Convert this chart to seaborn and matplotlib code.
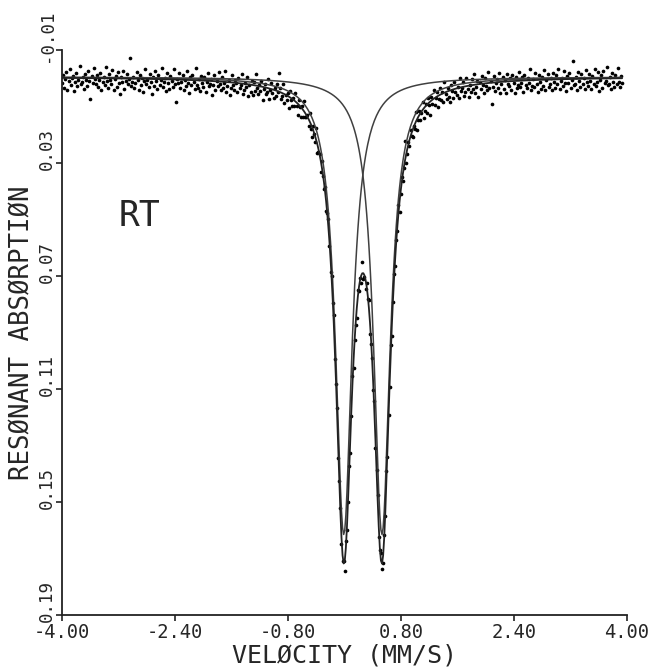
import matplotlib
matplotlib.use("Agg")
import matplotlib.pyplot as plt
import matplotlib.transforms as mtransforms
import numpy as np
import seaborn as sns

sns.set_style("ticks")
plt.rcParams["font.family"] = ["DejaVu Sans Mono", "DejaVu Sans"]

# doublet fit parameters (velocity in mm/s)
baseline = -0.0005
centers = [-0.01, 0.53]
depths = [0.162, 0.162]
fwhm = [0.282, 0.282]

# channel calibration
v_start, v_stop, n_chan = -4.0, 3.93, 512

# scatter of the measured points about the fit, in units of resid_unit
resid_unit = 1.4e-4
resid = [
    12, -8, 25, 3, -15, 30, 7, -22, 18, 0, -5, 34, 11, -12, 20, 6, -30, 15, 9, -3, 27, -10, 4, 19, -18, 8, 52, -6, 13, -25, 2, 16,
    -9, 22, 5, -14, 31, 10, -2, 17, -28, 7, 24, -11, 3, 14, -20, 29, 1, -7, 21, -16, 12, 40, -4, 9, -19, 26, 6, -12, 15, 0, -52, 18,
    8, -5, 23, 11, -17, 4, 28, -9, 16, -1, 33, 6, -24, 13, 2, 20, -13, 9, 38, -6, 17, -21, 5, 25, -10, 14, 1, -27, 19, 7, -3, 30,
    -15, 10, 24, -8, 3, 18, -26, 12, 58, -2, 9, -18, 21, 6, -11, 27, 0, 15, -23, 8, 32, -7, 13, -14, 4, 22, -30, 11, 19, -4, 26, -12,
    5, 17, -9, 29, 2, -20, 14, 8, -6, 35, 10, -16, 23, -1, 12, -25, 7, 20, -11, 16, 3, -28, 24, 9, -5, 31, 13, -19, 6, 18, -8, 0,
    22, -13, 11, 4, -24, 27, 15, -3, 8, -17, 30, 1, 19, -10, 25, -7, 14, -29, 6, 21, -2, 12, -15, 33, 5, -9, 17, 10, -22, 26, 3, -14,
    9, 20, -6, 13, -18, 2, -48, -11, 16, 7, -25, 23, 0, 11, -8, 28, -16, 5, 19, -3, 14, -21, 9, 30, -12, 4, 24, -7, 17, -27, 10, 6,
    -4, 18, -20, 12, 26, -9, 3, 15, -31, 21, 8, -2, 29, -14, 6, 17, -10, 24, 1, -19, 13, 35, -5, 10, -23, 20, 7, -13, 27, 2, -8, 16,
    14, -6, 25, -17, 9, 4, -12, 31, 11, -22, 18, -1, 7, 26, -15, 12, -4, 20, -28, 15, 3, 23, -9, 8, -18, 29, 10, -5, 16, -24, 21, 1,
    -11, 27, 6, -20, 14, 19, -7, 10, -26, 24, 2, 13, -16, 30, 5, -9, 18, -3, 11, -21, 26, 8, -13, 17, 4, -50, 22, 12, -6, 15, -17, 9,
    20, -2, 13, -24, 28, 7, -10, 16, 3, -19, 25, 11, -5, 21, -14, 6, 33, -8, 12, -22, 18, 1, -11, 27, 9, -16, 14, -3, 23, -26, 5, 19,
    -7, 15, 30, -13, 4, 22, -18, 9, 17, -4, 26, -25, 10, 3, -12, 24, 14, -20, 7, 29, -1, 16, -15, 11, -28, 20, 6, -9, 32, -6, 13, -19,
    3, 24, -14, 8, 18, -27, 12, -5, 55, 10, -17, 21, 2, -9, 15, -23, 27, 6, -12, 19, -3, 28, -20, 7, 13, -8, 23, -16, 4, 30, -11, 17,
    10, -21, 16, 5, -9, 29, -15, 12, 20, -6, 8, -28, 24, 14, -2, 18, -19, 9, 31, -12, 6, 22, -7, 15, -24, 26, 1, -14, 19, 11, -4, 27,
    -16, 7, 21, -10, 13, -26, 25, 4, -3, 17, -20, 11, 30, -8, 9, -15, 22, 2, -45, 16, 12, -5, 28, -18, 6, 20, -11, 14, -1, 25, -22, 8,
    18, -12, 5, 27, -7, 14, -23, 20, 9, -16, 31, 3, -10, 24, -19, 11, 6, -29, 17, 13, -4, 26, -14, 8, 21, -9, 15, -25, 10, 23, -6, 12,
]

xticks = [-4.00, -2.40, -0.80, 0.80, 2.40, 4.00]
yticks = [-0.01, 0.03, 0.07, 0.11, 0.15, 0.19]


def lorentz(v, c, a, w):
    return a / (1 + ((v - c) / (w / 2)) ** 2)


vel = np.linspace(v_start, v_stop, n_chan)
comps = [baseline + lorentz(vel, c, a, w) for c, a, w in zip(centers, depths, fwhm)]
total = baseline + sum(lorentz(vel, c, a, w) for c, a, w in zip(centers, depths, fwhm))
measured = total + np.array(resid) * resid_unit

fig = plt.figure(figsize=(6.68, 6.68), dpi=100)
ax = fig.add_axes([0.0928, 0.0793, 0.8458, 0.8458])

for comp in comps:
    sns.lineplot(x=vel, y=comp, color="#404040", linewidth=1.1, sort=False, estimator=None, ax=ax)
sns.lineplot(x=vel, y=total, color="#222222", linewidth=1.3, sort=False, estimator=None, ax=ax)
sns.scatterplot(x=vel, y=measured, s=7, color="black", linewidth=0, ax=ax)

ax.set_xlim(-4, 4)
ax.set_ylim(0.19, -0.01)
ax.set_xticks(xticks)
ax.set_xticklabels([f"{t:.2f}" for t in xticks], fontsize=13.5)
ax.set_yticks(yticks)
ax.set_yticklabels([f"{t:.2f}" for t in yticks], fontsize=12.5, rotation=90, va="center")
ax.tick_params(direction="out", length=4.5, width=1.2, color="#222222", pad=1)
ax.tick_params(axis="y", pad=0)
# y tick labels sit a little above their ticks in the original
shift = mtransforms.ScaledTranslation(0, 10 / 72, fig.dpi_scale_trans)
for lab in ax.get_yticklabels():
    lab.set_transform(lab.get_transform() + shift)
sns.despine(ax=ax)
for side in ["left", "bottom"]:
    ax.spines[side].set_linewidth(1.3)
    ax.spines[side].set_color("#222222")

ax.set_xlabel("VELØCITY (MM/S)", fontsize=18, labelpad=1)
ax.set_ylabel("RESØNANT ABSØRPTIØN", fontsize=18.5, labelpad=2)
ax.text(0.138, 0.706, "RT", transform=ax.transAxes, fontsize=25,
        ha="center", va="center")

fig.savefig("out.png", dpi=100)
